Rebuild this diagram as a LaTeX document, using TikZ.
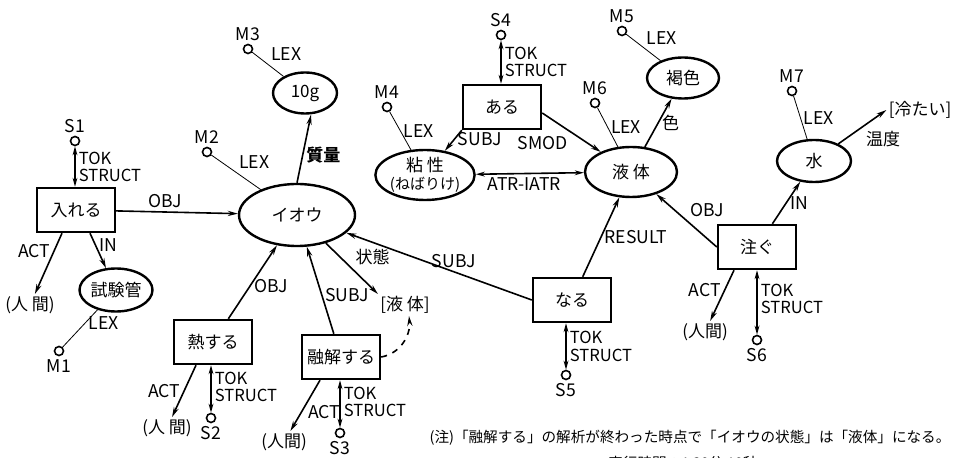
\documentclass[tikz,border=0pt]{standalone}
\usepackage{fontspec}
\setmainfont{Noto Sans CJK JP}
\usetikzlibrary{shapes.geometric,arrows.meta}

\tikzset{
  unit/.style={draw, rectangle, line width=1.2pt, minimum width=39pt, minimum height=22pt,
    inner sep=0pt, font=\fontsize{8.5}{10}\selectfont},
  concept/.style={draw, ellipse, line width=1.2pt, inner sep=0pt, font=\fontsize{8.5}{10}\selectfont},
  term/.style={draw, circle, line width=0.8pt, minimum size=4.5pt, inner sep=0pt},
  lab/.style={font=\fontsize{8.8}{9}\selectfont, inner sep=1.5pt},
  word/.style={font=\fontsize{8.5}{10}\selectfont, inner sep=1pt},
  rel/.style={line width=0.8pt, -{Stealth[length=5pt,width=2.6pt]}},
  tok/.style={line width=0.8pt, {Stealth[length=4.5pt,width=2.4pt]}-{Stealth[length=4.5pt,width=2.4pt]}},
  toklab/.style={lab, align=left, anchor=west, font=\fontsize{8.3}{8.6}\selectfont},
}

\begin{document}
\begin{tikzpicture}[x=0.5pt,y=-0.5pt]
  \useasboundingbox (0,0) rectangle (956,458);

  % concepts and units
  \node[unit] (ireru)  at (76,210)  {入れる};
  \node[unit] (netsu)  at (213,342) {熱する};
  \node[unit] (yuukai) at (341,357) {融解する};
  \node[unit] (naru)   at (572,300) {なる};
  \node[unit] (aru)    at (502,107) {ある};
  \node[unit] (sosogu) at (757,247) {注ぐ};

  \node[concept, minimum width=36.5pt, minimum height=21.5pt] (shiken) at (116,290) {試験管};
  \node[concept, minimum width=58pt, minimum height=31pt]     (iou)    at (297,215) {イオウ};
  \node[concept, minimum width=32pt, minimum height=20.5pt]   (juu)    at (305,93)  {10g};
  \node[concept, minimum width=43pt, minimum height=25pt, align=center] (nensei) at (425,175)
    {粘 性\\[-1pt]{\fontsize{7.5}{8}\selectfont (ねばりけ)}};
  \node[concept, minimum width=46pt, minimum height=25pt]     (ekitai)   at (631,172) {液 体};
  \node[concept, minimum width=36pt, minimum height=20.5pt]   (kasshoku) at (683,78)  {褐色};
  \node[concept, minimum width=37pt, minimum height=21pt]     (mizu)     at (814,161) {水};

  \node[word] (hito1)    at (30,305)  {(人 間)};
  \node[word] (hito2)    at (167,428) {(人 間)};
  \node[word] (hito3)    at (284,442) {(人間)};
  \node[word] (hito4)    at (705,332) {(人間)};
  \node[word] (ekitaiB)  at (405,305) {[液 体]};
  \node[word] (tsumetai) at (920,110) {[冷たい]};

  % token structures and lexicon entries
  \node[term, label={[lab]above:S1}] (s1) at (75,141)  {};
  \node[term, label={[lab]below:S2}] (s2) at (211,418) {};
  \node[term, label={[lab]below:S3}] (s3) at (340,433) {};
  \node[term, label={[lab]above:S4}] (s4) at (501,35)  {};
  \node[term, label={[lab]below:S5}] (s5) at (566,375) {};
  \node[term, label={[lab]below:S6}] (s6) at (757,340) {};
  \node[term, label={[lab]below:M1}] (m1) at (59,351)  {};
  \node[term, label={[lab]above:M2}] (m2) at (207,152) {};
  \node[term, label={[lab]above:M3}] (m3) at (248,49)  {};
  \node[term, label={[lab]above:M4}] (m4) at (387,107) {};
  \node[term, label={[lab]above:M5}] (m5) at (622,31)  {};
  \node[term, label={[lab]above:M6}] (m6) at (595,103) {};
  \node[term, label={[lab]above:M7}] (m7) at (792,91)  {};

  % relations
  \draw[rel] (ireru) -- node[lab, above, pos=.4] {OBJ} (iou);
  \draw[rel] ([xshift=-7pt]ireru.south) -- node[lab, left, pos=.3] {ACT} (hito1);
  \draw[rel] ([xshift=7pt]ireru.south) -- node[lab, right, pos=.35] {IN} (shiken);
  \draw (shiken) -- node[lab, right, pos=.35] {LEX} (m1);
  \draw[tok] (s1) -- node[toklab, pos=.5] {TOK\\STRUCT} (s1 |- ireru.north);

  \draw (m2) -- node[lab, above right, pos=.5] {LEX} (iou);
  \draw (m3) -- node[lab, above right, pos=.5] {LEX} (juu);
  \draw[rel] (iou.north) -- node[lab, right, pos=.4, font=\fontsize{8.5}{9}\selectfont\bfseries] {質量} ([xshift=3pt]juu.south);
  \draw[rel] (netsu) -- node[lab, right, pos=.45] {OBJ} (iou);
  \draw[rel] (yuukai) -- node[lab, right, pos=.45] {SUBJ} (iou);
  \draw[rel] (iou) -- node[lab, above right, pos=.5, font=\fontsize{8.5}{9}\selectfont] {状態} (ekitaiB.north west);
  \draw[rel, dashed] (yuukai.east) to[out=10, in=-85] ([xshift=2pt]ekitaiB.south);

  \draw[rel] ([xshift=-8.5pt]netsu.south) -- node[lab, left, pos=.5] {ACT} (hito2);
  \draw[tok] (netsu.south -| s2) -- node[toklab, pos=.45] {TOK\\STRUCT} (s2);
  \draw[rel] ([xshift=-10.5pt]yuukai.south) -- node[lab, right, pos=.62, xshift=1.5pt] {ACT} (hito3);
  \draw[tok] (yuukai.south -| s3) -- node[toklab, pos=.45] {TOK\\STRUCT} (s3);

  \draw[rel] (naru.west) -- node[lab, above, pos=.42] {SUBJ} (iou);
  \draw[rel] (naru) -- node[lab, right, pos=.5] {RESULT} (ekitai);
  \draw[tok] (naru.south -| s5) -- node[toklab, pos=.5] {TOK\\STRUCT} (s5);

  \draw[tok] (s4) -- node[toklab, pos=.5] {TOK\\STRUCT} (s4 |- aru.north);
  \draw[rel] (aru.south west) -- node[lab, right, pos=.45] {SUBJ} (nensei);
  \draw[rel] ([yshift=-3pt]aru.east) -- node[lab, below left, pos=.5] {SMOD} (ekitai);
  \draw[tok] (nensei) -- node[lab, below, pos=.45] {ATR-IATR} (ekitai);
  \draw (m4) -- node[lab, right, pos=.5] {LEX} (nensei);
  \draw (m6) -- node[lab, right, pos=.5] {LEX} (ekitai);
  \draw (m5) -- node[lab, above right, pos=.5] {LEX} (kasshoku);
  \draw[rel] (ekitai) -- node[lab, right, pos=.5, font=\fontsize{8.5}{9}\selectfont] {色} (kasshoku);

  \draw[rel] (sosogu.west) -- node[lab, above right, pos=.5] {OBJ} (ekitai);
  \draw[rel] (sosogu) -- node[lab, right, pos=.5] {IN} (mizu);
  \draw (m7) -- node[lab, right, pos=.5] {LEX} (mizu);
  \draw[rel] (mizu) -- node[lab, below right, pos=.5, font=\fontsize{8.5}{9}\selectfont] {温度} (tsumetai.west);
  \draw[rel] ([xshift=-11.5pt]sosogu.south) -- node[lab, left, pos=.4] {ACT} (hito4);
  \draw[tok] (sosogu.south -| s6) -- node[toklab, pos=.45] {TOK\\STRUCT} (s6);

  % note
  \node[font=\fontsize{7.3}{9}\selectfont] (note) at (690,438)
    {(注)「融解する」の解析が終わった時点で「イオウの状態」は「液体」になる。};
  \node[font=\fontsize{7.3}{9}\selectfont] (jikan) at (683,463) {実行時間：1 30分 10秒};
\end{tikzpicture}
\end{document}
